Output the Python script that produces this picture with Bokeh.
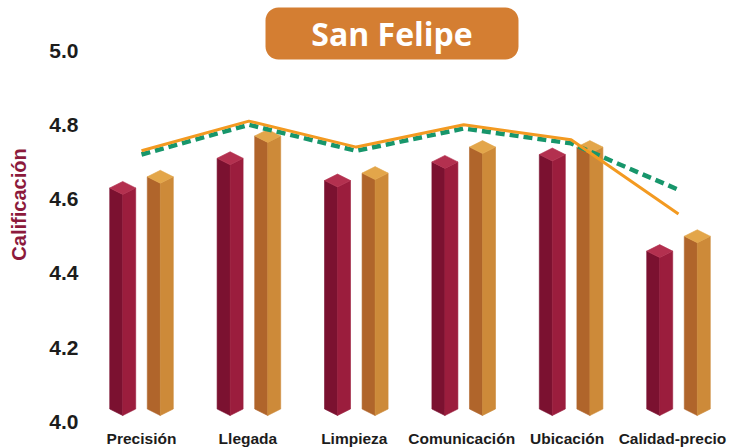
import math
from bokeh.plotting import figure
from bokeh.models import Range1d, BoxAnnotation, Label, ColumnDataSource
from bokeh.core.properties import value
from bokeh.embed import file_html
from bokeh.resources import INLINE

# ---------------- data ----------------
categories = ["Precisión", "Llegada", "Limpieza", "Comunicación", "Ubicación", "Calidad-precio"]
serie_granate = [4.63, 4.71, 4.65, 4.70, 4.72, 4.46]
serie_naranja = [4.66, 4.77, 4.67, 4.74, 4.74, 4.50]
linea_naranja = [4.73, 4.81, 4.74, 4.80, 4.76, 4.56]
linea_verde = [4.72, 4.80, 4.73, 4.79, 4.75, 4.625]
y_ticks = [4.0, 4.2, 4.4, 4.6, 4.8, 5.0]
y_tick_labels = ["4.0", "4.2", "4.4", "4.6", "4.8", "5.0"]
titulo = "San Felipe"
eje_y = "Calificación"
base = 4.0

# ---------------- layout (page pixels) ----------------
W, H = 735, 448
PX_PER_CAT = 107.4
FIRST_CAT_PAGE = 141.0
PX_PER_UNIT = 371.5
Y_BASE_PAGE = 421.5

x_start = -FIRST_CAT_PAGE / PX_PER_CAT
x_end = x_start + W / PX_PER_CAT
y_start = base - (H - Y_BASE_PAGE) / PX_PER_UNIT
y_end = y_start + H / PX_PER_UNIT


def px_x(page_x):
    return x_start + page_x / PX_PER_CAT


def px_y(page_y):
    return y_start + (H - page_y) / PX_PER_UNIT


p = figure(width=W, height=H, output_backend="svg", toolbar_location=None,
           x_range=Range1d(x_start, x_end), y_range=Range1d(y_start, y_end),
           x_axis_location=None, y_axis_location=None,
           min_border_left=0, min_border_right=0, min_border_top=0, min_border_bottom=0,
           outline_line_color=None, background_fill_color="white",
           border_fill_color="white")
p.grid.visible = False

# ---------------- 3D prism bars ----------------
dh = 6.5 / PX_PER_UNIT          # half height of the top diamond
hw = 13.0 / PX_PER_CAT          # half width of a bar
offs = {"g": -0.175, "n": 0.175}
colors = {
    "g": ("#7b1130", "#9b1d3d", "#b3304f"),
    "n": ("#b0652b", "#cd8a39", "#e3a64a"),
}

xs, ys, fc = [], [], []
for key, serie in (("g", serie_granate), ("n", serie_naranja)):
    cl, cr, ct = colors[key]
    for i, v in enumerate(serie):
        xc = i + offs[key]
        xl, xr = xc - hw, xc + hw
        bf = base + dh
        bs = base + 2 * dh
        xs.append([xl, xc, xc, xl]); ys.append([v, v - dh, bf, bs]); fc.append(cl)
        xs.append([xc, xr, xr, xc]); ys.append([v - dh, v, bs, bf]); fc.append(cr)
        xs.append([xl, xc, xr, xc]); ys.append([v, v + dh, v, v - dh]); fc.append(ct)

bars = ColumnDataSource(dict(xs=xs, ys=ys, color=fc))
p.patches("xs", "ys", source=bars, fill_color="color", line_color="color", line_width=0.6)

# ---------------- lines ----------------
idx = list(range(len(categories)))
p.line(idx, linea_verde, line_color="#17966b", line_width=4.5, line_dash="9 5")
p.line(idx, linea_naranja, line_color="#f39a21", line_width=3)

# ---------------- category labels ----------------
label_nudge_px = [0, -1, -2, -2, -4, -6]
cat_src = ColumnDataSource(dict(x=idx, y=[px_y(438)] * len(idx), text=categories,
                                dx=label_nudge_px))
p.text("x", "y", text="text", x_offset="dx", source=cat_src, text_align="center",
       text_baseline="middle", text_font=value("Liberation Sans"),
       text_font_style="bold", text_font_size="15.5px", text_color="#1c1c1c")

# ---------------- y tick labels & axis title ----------------
tick_src = ColumnDataSource(dict(y=y_ticks, text=y_tick_labels,
                                 x=[px_x(78)] * len(y_ticks)))
p.text("x", "y", text="text", source=tick_src, text_align="right",
       text_baseline="middle", text_font=value("Liberation Sans"),
       text_font_style="bold", text_font_size="21px", text_color="#1c1c1c")

p.text(x=[px_x(18)], y=[px_y(204)], text=[eje_y], angle=math.pi / 2,
       text_align="center", text_baseline="middle", text_font=value("Liberation Sans"),
       text_font_style="bold", text_font_size="20px", text_color="#8c1a3c")

# ---------------- title box ----------------
p.add_layout(BoxAnnotation(left=px_x(265), right=px_x(518), top=px_y(7), bottom=px_y(59),
                           fill_color="#d47e32", fill_alpha=1.0, line_color=None,
                           border_radius=13))
p.add_layout(Label(x=px_x(391.5), y=px_y(33), text=titulo, text_align="center",
                   text_baseline="middle", text_font="Open Sans", text_font_style="bold",
                   text_font_size="32px", text_color="white"))

open("out.html", "w").write(file_html(p, INLINE))
